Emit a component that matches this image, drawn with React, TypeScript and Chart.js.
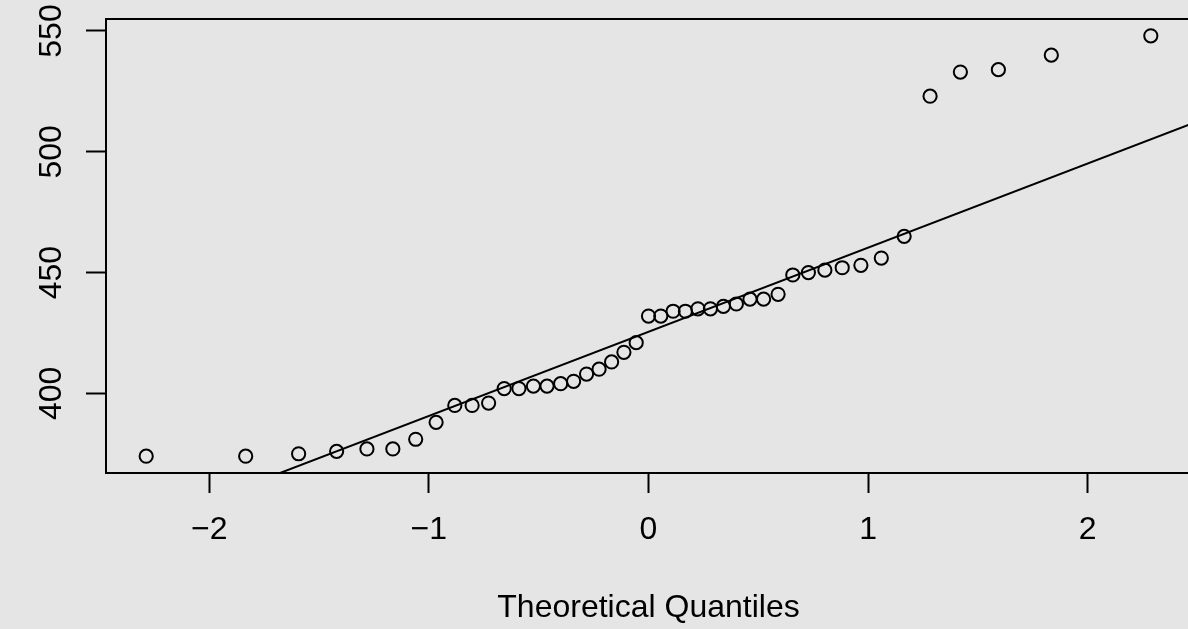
import React, { useEffect, useRef } from "react";
import { Chart, registerables } from "chart.js";

Chart.register(...registerables);

// Theoretical normal quantiles (x) and sorted sample values (y)
const theoreticalQuantiles = [
  -2.287, -1.834, -1.593, -1.42, -1.282, -1.164, -1.06, -0.967, -0.882, -0.803,
  -0.728, -0.657, -0.59, -0.524, -0.462, -0.4, -0.341, -0.282, -0.225, -0.168,
  -0.112, -0.056, 0, 0.056, 0.112, 0.168, 0.225, 0.282, 0.341, 0.4, 0.462,
  0.524, 0.59, 0.657, 0.728, 0.803, 0.882, 0.967, 1.06, 1.164, 1.282, 1.42,
  1.593, 1.834, 2.287,
];
const sampleQuantiles = [
  374, 374, 375, 376, 377, 377, 381, 388, 395, 395, 396, 402, 402, 403, 403,
  404, 405, 408, 410, 413, 417, 421, 432, 432, 434, 434, 435, 435, 436, 437,
  439, 439, 441, 449, 450, 451, 452, 453, 456, 465, 523, 533, 534, 540, 548,
];

const xTickValues = [-2, -1, 0, 1, 2];
const yTickValues = [400, 450, 500, 550];
const xLimits = [-2.47, 2.47];
const yLimits = [367.04, 554.96];
const xTitle = "Theoretical Quantiles";

// qqline through first and third quartiles (R quantile type 7)
function quantile7(sorted: number[], p: number) {
  const h = (sorted.length - 1) * p;
  const lo = Math.floor(h);
  const hi = Math.ceil(h);
  return sorted[lo] + (h - lo) * (sorted[hi] - sorted[lo]);
}
const zQ = 0.6744898;
const sortedY = [...sampleQuantiles].sort((a, b) => a - b);
const yQ1 = quantile7(sortedY, 0.25);
const yQ3 = quantile7(sortedY, 0.75);
const qqSlope = (yQ3 - yQ1) / (2 * zQ);
const qqIntercept = yQ1 + zQ * qqSlope;

const BG = "#e5e5e5";
const FONT = "'Liberation Sans', Arial, Helvetica, sans-serif";
const FONT_SIZE = 32;

const fmt = (v: number) => (v < 0 ? "\u2212" + Math.abs(v) : String(v));

export default function App() {
  const canvasRef = useRef<HTMLCanvasElement | null>(null);

  useEffect(() => {
    const canvas = canvasRef.current;
    if (!canvas) return;

    const bgPlugin = {
      id: "bg",
      beforeDraw(chart: any) {
        const ctx = chart.ctx;
        ctx.save();
        ctx.fillStyle = BG;
        ctx.fillRect(0, 0, chart.width, chart.height);
        ctx.restore();
      },
    };

    const boxPlugin = {
      id: "box",
      afterDraw(chart: any) {
        const { ctx, chartArea } = chart;
        ctx.save();
        ctx.strokeStyle = "#000";
        ctx.lineWidth = 2;
        ctx.strokeRect(
          chartArea.left,
          chartArea.top,
          chartArea.right - chartArea.left,
          chartArea.bottom - chartArea.top
        );
        // rotated y tick labels (R style, las = 0)
        const yScale = chart.scales.y;
        ctx.fillStyle = "#000";
        ctx.font = `${FONT_SIZE}px ${FONT}`;
        ctx.textAlign = "center";
        ctx.textBaseline = "alphabetic";
        yTickValues.forEach((v) => {
          const py = yScale.getPixelForValue(v);
          ctx.save();
          ctx.translate(61, py);
          ctx.rotate(-Math.PI / 2);
          ctx.fillText(fmt(v), 0, 0);
          ctx.restore();
        });
        ctx.restore();
      },
    };

    const points = theoreticalQuantiles.map((x, i) => ({ x, y: sampleQuantiles[i] }));
    const linePts = xLimits.map((x) => ({ x, y: qqIntercept + qqSlope * x }));

    const chart = new Chart(canvas, {
      type: "scatter",
      data: {
        datasets: [
          {
            type: "line",
            data: linePts,
            borderColor: "#000",
            borderWidth: 2,
            pointRadius: 0,
            fill: false,
            clip: 0,
          } as any,
          {
            data: points,
            pointStyle: "circle",
            pointRadius: 6.6,
            pointBorderWidth: 2,
            borderColor: "#000",
            backgroundColor: "rgba(0,0,0,0)",
            pointBackgroundColor: "rgba(0,0,0,0)",
            pointBorderColor: "#000",
          } as any,
        ],
      },
      options: {
        responsive: false,
        animation: false,
        devicePixelRatio: 1,
        layout: { padding: { top: 19, right: 9, left: 0, bottom: 0 } },
        plugins: {
          legend: { display: false },
          tooltip: { enabled: false },
        },
        scales: {
          x: {
            type: "linear",
            min: xLimits[0],
            max: xLimits[1],
            afterBuildTicks: (s: any) => {
              s.ticks = xTickValues.map((value) => ({ value }));
            },
            afterFit: (s: any) => {
              s.height = 629 - 473;
            },
            grid: {
              display: true,
              drawOnChartArea: false,
              drawTicks: true,
              tickLength: 20,
              tickWidth: 2,
              tickColor: "#000",
            },
            border: { display: false },
            ticks: {
              color: "#000",
              font: { family: FONT, size: FONT_SIZE },
              padding: 18,
              maxRotation: 0,
              autoSkip: false,
              callback: (v: any) => fmt(Number(v)),
            },
            title: {
              display: true,
              text: xTitle,
              color: "#000",
              font: { family: FONT, size: FONT_SIZE },
              padding: { top: 0, bottom: 2 },
            },
          },
          y: {
            type: "linear",
            min: yLimits[0],
            max: yLimits[1],
            afterBuildTicks: (s: any) => {
              s.ticks = yTickValues.map((value) => ({ value }));
            },
            afterFit: (s: any) => {
              s.width = 106;
            },
            grid: {
              display: true,
              drawOnChartArea: false,
              drawTicks: true,
              tickLength: 20,
              tickWidth: 2,
              tickColor: "#000",
            },
            border: { display: false },
            ticks: { display: false },
          },
        },
      } as any,
      plugins: [bgPlugin, boxPlugin],
    });

    return () => chart.destroy();
  }, []);

  return (
    <div
      style={{
        position: "fixed",
        left: 0,
        top: 0,
        width: 1188,
        height: 629,
        overflow: "hidden",
        background: BG,
      }}
    >
      <canvas ref={canvasRef} width={1200} height={629} style={{ display: "block", width: 1200, height: 629 }} />
    </div>
  );
}
